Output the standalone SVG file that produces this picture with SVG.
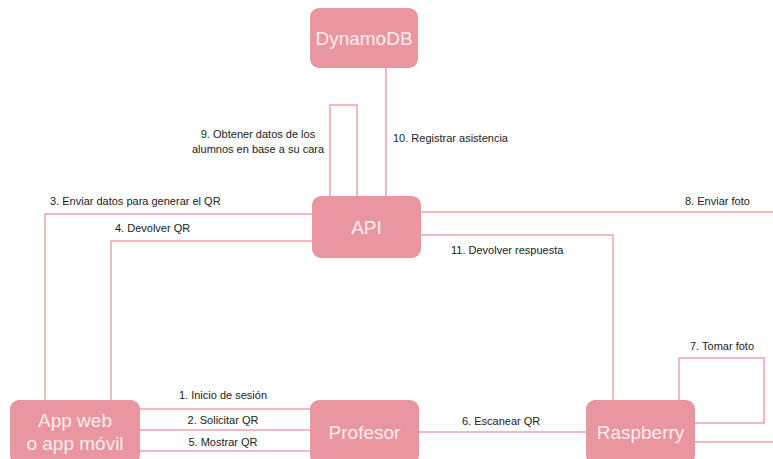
<svg xmlns="http://www.w3.org/2000/svg" width="773" height="459" viewBox="0 0 773 459">
<style>
.node rect{fill:#ea96a0;}
.node text{fill:#fdeced;font-family:"Liberation Sans",Arial,sans-serif;font-size:19px;text-anchor:middle;}
.edge{fill:none;stroke:#f0a2ab;stroke-width:1.5;}
.lbl{fill:#222;font-family:"Liberation Sans",Arial,sans-serif;font-size:11px;}
.c{text-anchor:middle;}
</style>
<rect width="773" height="459" fill="#fff"/>
<g id="connectors">
<path class="edge" d="M386,68 V196"/>
<path class="edge" d="M330,196 V105 H357 V196"/>
<path class="edge" d="M312,214 H45 V400"/>
<path class="edge" d="M312,241 H111 V400"/>
<path class="edge" d="M421,212 H775 V442 H695"/>
<path class="edge" d="M421,235 H613 V400"/>
<path class="edge" d="M695,423 H764 V358 H679 V400"/>
<path class="edge" d="M140,409 H310"/>
<path class="edge" d="M140,430 H310"/>
<path class="edge" d="M140,451 H310"/>
<path class="edge" d="M419,432 H586"/>
<text class="lbl c" x="258" y="138">9. Obtener datos de los</text>
<text class="lbl c" x="258" y="153">alumnos en base a su cara</text>
<text class="lbl" x="393" y="142">10. Registrar asistencia</text>
<text class="lbl" x="50" y="205">3. Enviar datos para generar el QR</text>
<text class="lbl" x="115" y="232">4. Devolver QR</text>
<text class="lbl" x="685" y="205">8. Enviar foto</text>
<text class="lbl" x="451" y="254">11. Devolver respuesta</text>
<text class="lbl" x="690" y="350">7. Tomar foto</text>
<text class="lbl c" x="223" y="399">1. Inicio de sesión</text>
<text class="lbl c" x="223" y="424">2. Solicitar QR</text>
<text class="lbl c" x="223" y="446">5. Mostrar QR</text>
<text class="lbl" x="462" y="425">6. Escanear QR</text>
</g>
<g id="dynamodb" class="node"><rect x="310" y="8" width="108" height="60" rx="9"/><text x="364" y="45">DynamoDB</text></g>
<g id="api" class="node"><rect x="312" y="196" width="109" height="62" rx="9"/><text x="366.5" y="234">API</text></g>
<g id="app" class="node"><rect x="10" y="400" width="130" height="64" rx="9"/><text x="75" y="427">App web</text><text x="75" y="450">o app móvil</text></g>
<g id="profesor" class="node"><rect x="310" y="400" width="109" height="64" rx="9"/><text x="364.5" y="439">Profesor</text></g>
<g id="raspberry" class="node"><rect x="586" y="400" width="109" height="64" rx="9"/><text x="640.5" y="439">Raspberry</text></g>
</svg>
